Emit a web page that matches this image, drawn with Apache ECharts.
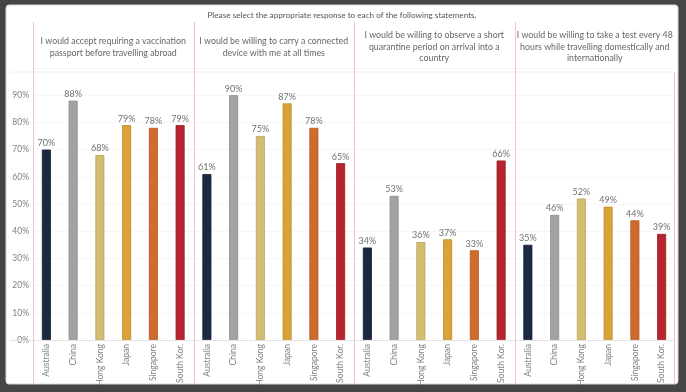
<!DOCTYPE html>
<html><head><meta charset="utf-8">
<script src="https://cdn.jsdelivr.net/npm/echarts@6/dist/echarts.min.js"></script>
<style>html,body{margin:0;padding:0;background:#454545;}#c{width:686px;height:392px;}</style>
</head><body><div id="c"></div>
<script>
const title = 'Please select the appropriate response to each of the following statements.';
const statements = [
  'I would accept requiring a vaccination\npassport before travelling abroad',
  'I would be willing to carry a connected\ndevice with me at all times',
  'I would be willing to observe a short\nquarantine period on arrival into a\ncountry',
  'I would be willing to take a test every 48\nhours while travelling domestically and\ninternationally'
];
const countries = ['Australia', 'China', 'Hong Kong', 'Japan', 'Singapore', 'South Kor.'];
const vaccinationPassport = [70, 88, 68, 79, 78, 79];
const connectedDevice = [61, 90, 75, 87, 78, 65];
const shortQuarantine = [34, 53, 36, 37, 33, 66];
const testEvery48h = [35, 46, 52, 49, 44, 39];
const yTicks = [0, 10, 20, 30, 40, 50, 60, 70, 80, 90];

const seriesValues = [vaccinationPassport, connectedDevice, shortQuarantine, testEvery48h];
const countryColors = ['#1b2a41', '#a2a3a6', '#d3bd72', '#d9a33a', '#cf6c2d', '#b6252e'];
const borderColors = ['#111c2d', '#8a8b8e', '#b9a35b', '#be8b28', '#b2581f', '#991b23'];

const font = 'Lato';
const panelLeft = 33, panelW = 160.5, zeroY = 340, topY = 68;

const grids = [], xAxes = [], yAxes = [], series = [], graphics = [];
graphics.push({type:'rect', shape:{x:6, y:5, width:672, height:379, r:3}, style:{fill:'#ffffff', stroke:'#d8d8d8', lineWidth:1}, z:-10});
graphics.push({type:'text', x:342, y:15, style:{text:title, fill:'#555', font:'8.2px ' + font, textAlign:'center', textVerticalAlign:'middle'}});
graphics.push({type:'line', shape:{x1:10, y1:72, x2:674, y2:72}, style:{stroke:'#eeeeee', lineWidth:1}});
graphics.push({type:'line', shape:{x1:10, y1:zeroY + 0.5, x2:674, y2:zeroY + 0.5}, style:{stroke:'#e2e2e2', lineWidth:1}, z:5});

statements.forEach((s, i) => {
  const left = panelLeft + panelW * i;
  grids.push({left: left, width: panelW, top: topY, bottom: 392 - zeroY});
  xAxes.push({
    type: 'category', gridIndex: i, data: countries,
    axisLine: {show: false}, axisTick: {show: false},
    axisLabel: {rotate: 90, color: '#808080', fontSize: 8.5, fontFamily: font, margin: 4}
  });
  yAxes.push({
    type: 'value', gridIndex: i, min: 0, max: 100, interval: 10,
    axisLine: {show: false}, axisTick: {show: false},
    axisLabel: {show: i === 0, color: '#808080', fontSize: 8.5, fontFamily: font, margin: 4,
      formatter: v => yTicks.includes(v) ? v + '%' : ''},
    splitLine: {show: true, lineStyle: {color: '#f6f6f6', width: 1}}
  });
  series.push({
    type: 'bar', xAxisIndex: i, yAxisIndex: i, barWidth: 9,
    data: seriesValues[i].map((v, j) => ({value: v, itemStyle: {color: countryColors[j], borderColor: borderColors[j], borderWidth: 0.8}})),
    label: {show: true, position: 'top', distance: 2, color: '#707070', fontSize: 9, fontFamily: font, formatter: p => p.value + '%'}
  });
  graphics.push({type:'text', x: left + panelW / 2, y: 47, style:{text: s, fill:'#666', font:'8.8px ' + font, textAlign:'center', textVerticalAlign:'middle', lineHeight: 11.5}});
});
[0,1,2,3].forEach(i => {
  const x = Math.round(panelLeft + panelW * i) + 0.5;
  graphics.push({type:'line', shape:{x1:x, y1:22, x2:x, y2:384}, style:{stroke:'#ecc3d3', lineWidth:1}, z:6});
});
graphics.push({type:'line', shape:{x1:674.5, y1:72, x2:674.5, y2:384}, style:{stroke:'#ecc3d3', lineWidth:1}, z:6});

const chart = echarts.init(document.getElementById('c'), null, {renderer: 'canvas'});
chart.setOption({
  backgroundColor: '#454545',
  animation: false,
  grid: grids, xAxis: xAxes, yAxis: yAxes, series: series,
  graphic: graphics
});
</script></body></html>
